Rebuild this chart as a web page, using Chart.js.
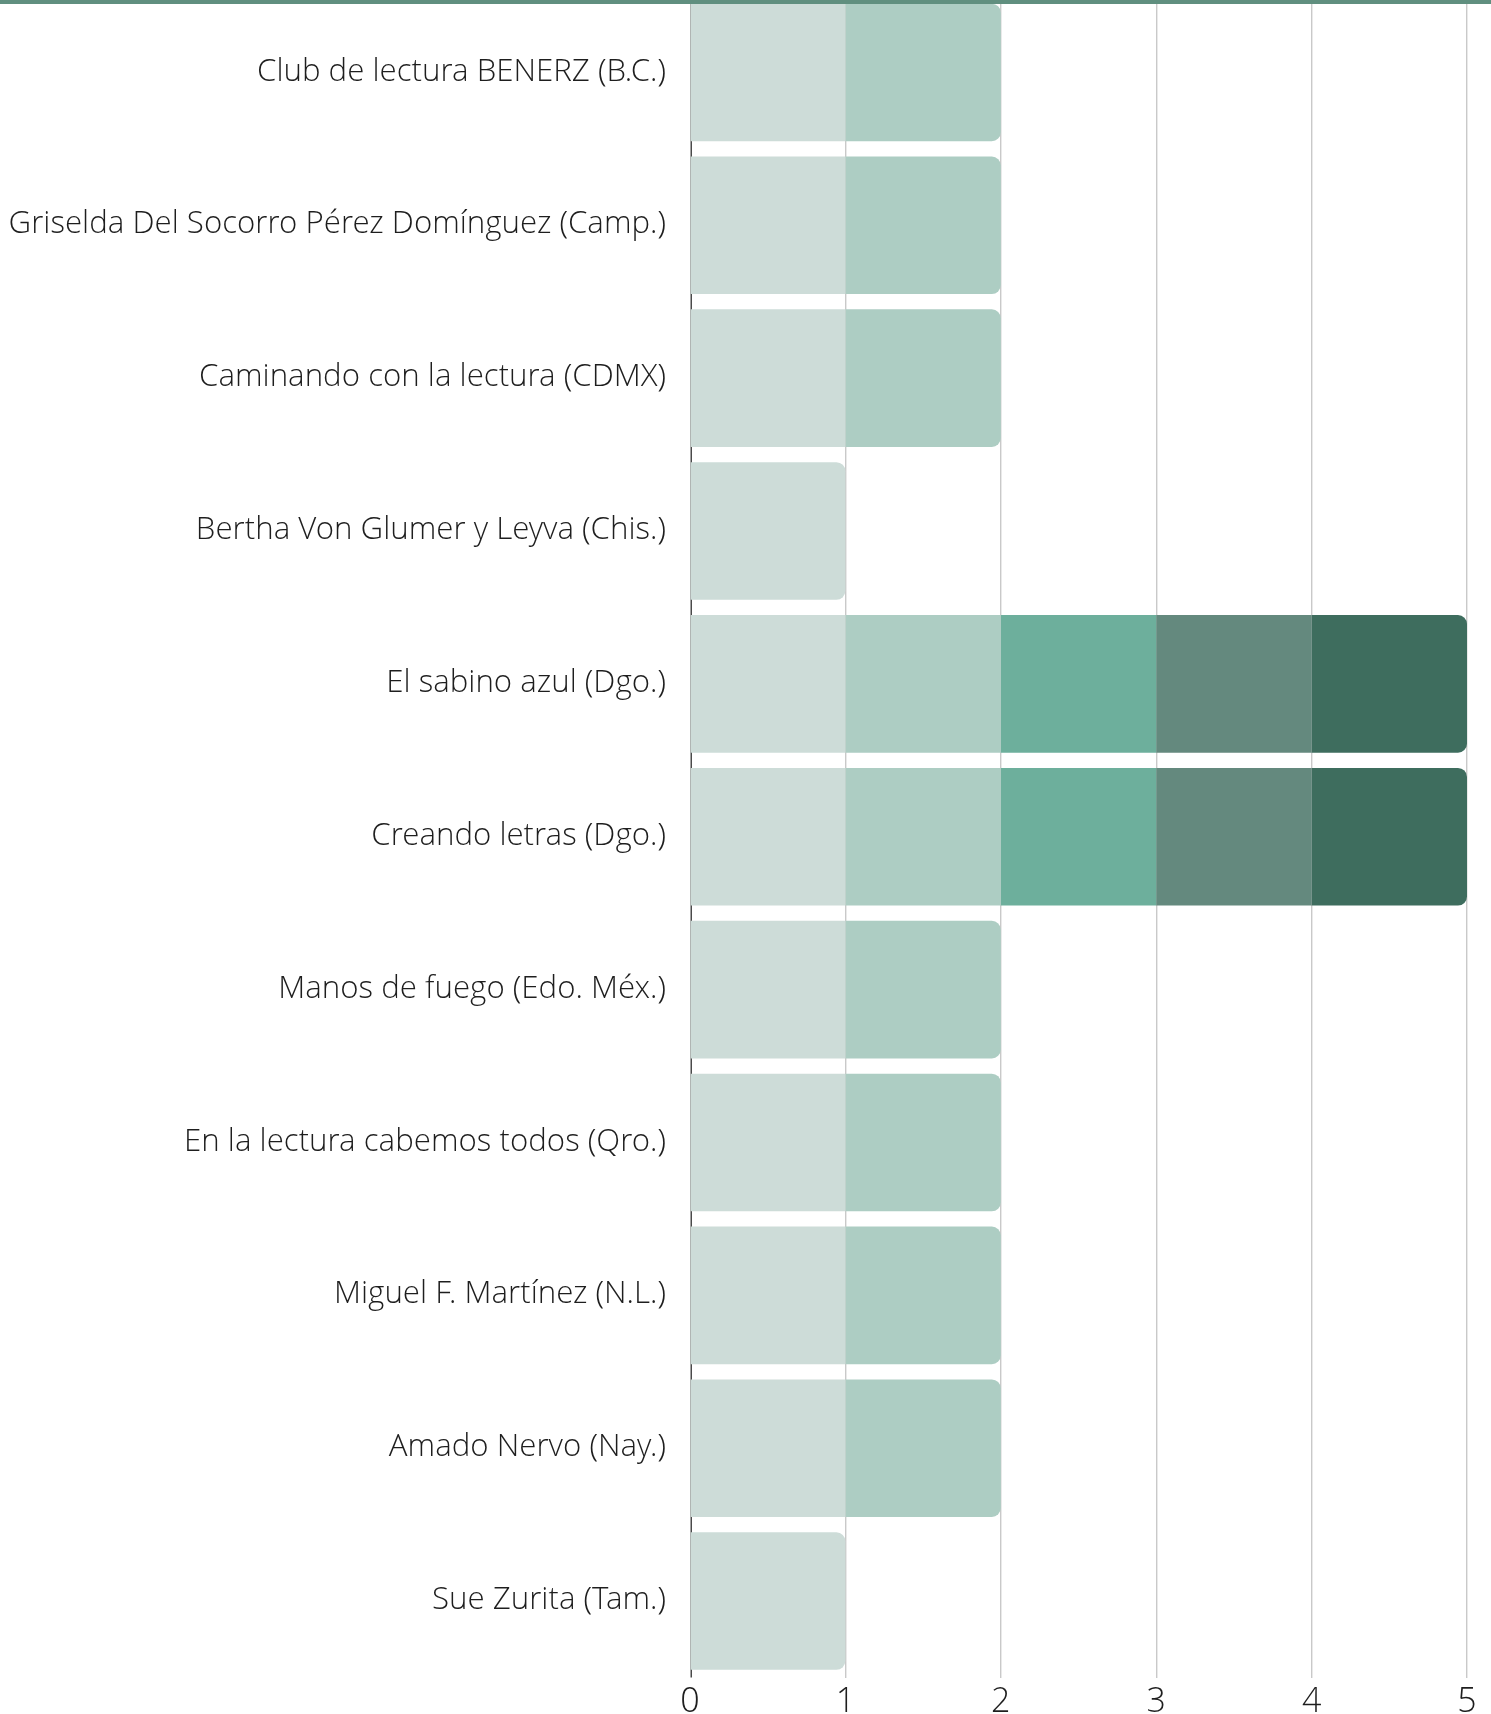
<!DOCTYPE html>
<html>
<head>
<meta charset="utf-8">
<script src="https://cdn.jsdelivr.net/npm/chart.js@4"></script>
<style>
  html, body { margin: 0; padding: 0; background: #ffffff; overflow: hidden; }
  #wrap { position: relative; width: 1491px; height: 1714px; overflow: hidden; }
  #topline { position: absolute; left: 0; top: 0; width: 1491px; height: 4px; background: #608f7f; z-index: 2; }
  #c { position: absolute; left: 0; top: -4px; }
</style>
</head>
<body>
<div id="wrap">
  <div id="topline"></div>
  <canvas id="c" width="1491" height="1718"></canvas>
</div>
<script>
const categories = [
  "Club de lectura BENERZ (B.C.)",
  "Griselda Del Socorro Pérez Domínguez (Camp.)",
  "Caminando con la lectura (CDMX)",
  "Bertha Von Glumer y Leyva (Chis.)",
  "El sabino azul (Dgo.)",
  "Creando letras (Dgo.)",
  "Manos de fuego (Edo. Méx.)",
  "En la lectura cabemos todos (Qro.)",
  "Miguel F. Martínez (N.L.)",
  "Amado Nervo (Nay.)",
  "Sue Zurita (Tam.)"
];
const series1 = [1, 1, 1, 1, 1, 1, 1, 1, 1, 1, 1];
const series2 = [1, 1, 1, 0, 1, 1, 1, 1, 1, 1, 0];
const series3 = [0, 0, 0, 0, 1, 1, 0, 0, 0, 0, 0];
const series4 = [0, 0, 0, 0, 1, 1, 0, 0, 0, 0, 0];
const series5 = [0, 0, 0, 0, 1, 1, 0, 0, 0, 0, 0];
const xTicks = [0, 1, 2, 3, 4, 5];
const colors = ["#cddcd8", "#adcdc3", "#6daf9c", "#64897e", "#3e6d5e"];

const allSeries = [series1, series2, series3, series4, series5];
const datasets = allSeries.map((d, i) => ({
  label: "Serie " + (i + 1),
  data: d,
  backgroundColor: colors[i],
  borderWidth: 0,
  borderRadius: 9,
  borderSkipped: "start",
  barPercentage: 0.9,
  categoryPercentage: 1.0
}));

const fam = "'Open Sans Light', 'Open Sans', sans-serif";

// axis line at value 0, drawn under the bars so it only shows in the gaps
const baseLine = {
  id: "baseLine",
  beforeDatasetsDraw(chart) {
    const { ctx, chartArea } = chart;
    const x0 = chart.scales.x.getPixelForValue(0);
    ctx.save();
    ctx.strokeStyle = "#4a4a4a";
    ctx.lineWidth = 1.5;
    ctx.beginPath();
    ctx.moveTo(x0 + 1.25, chartArea.top);
    ctx.lineTo(x0 + 1.25, chartArea.bottom);
    ctx.stroke();
    ctx.restore();
  }
};

new Chart(document.getElementById("c"), {
  type: "bar",
  data: { labels: categories, datasets: datasets },
  plugins: [baseLine],
  options: {
    indexAxis: "y",
    responsive: false,
    animation: false,
    devicePixelRatio: 1,
    layout: { autoPadding: false, padding: { left: 0, right: 24, top: 0, bottom: 0 } },
    plugins: { legend: { display: false }, tooltip: { enabled: false } },
    scales: {
      x: {
        stacked: true,
        min: 0,
        max: 5,
        afterBuildTicks: (s) => { s.ticks = xTicks.map(v => ({ value: v })); },
        afterFit: (s) => { s.height = 36.5; s.paddingLeft = 0; s.paddingRight = 0; },
        grid: {
          color: (c) => (c.tick && c.tick.value === 0 ? "rgba(0,0,0,0)" : "#c9c9c9"),
          lineWidth: 1.4,
          drawTicks: false
        },
        border: { display: false },
        ticks: {
          padding: 5,
          color: "#1e1e1e",
          font: { family: fam, size: 34, weight: 300 }
        }
      },
      y: {
        stacked: true,
        afterFit: (s) => { s.width = 690; s.paddingTop = 0; s.paddingBottom = 0; },
        grid: { display: false, drawTicks: false },
        border: { display: false },
        ticks: {
          padding: 24,
          color: "#1e1e1e",
          font: { family: fam, size: 31.25, weight: 300 }
        }
      }
    }
  }
});
</script>
</body>
</html>
